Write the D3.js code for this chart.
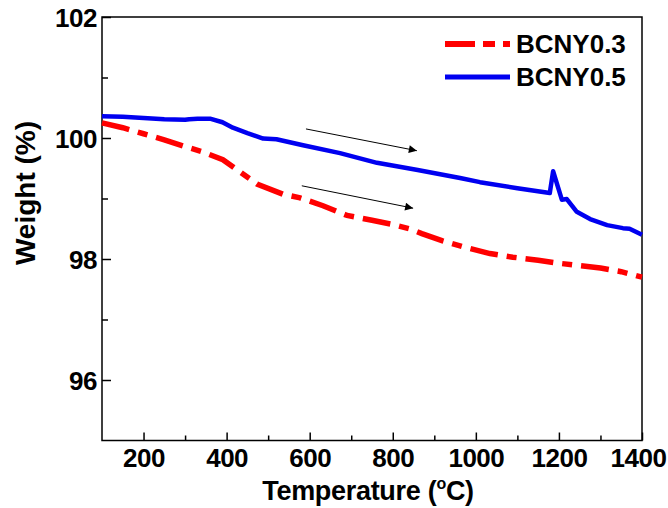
<!DOCTYPE html>
<html>
<head>
<meta charset="utf-8">
<script src="https://cdn.jsdelivr.net/npm/d3@7"></script>
<style>
  html, body { margin: 0; padding: 0; background: #fff; }
  svg { display: block; font-family: "Liberation Sans", Arial, sans-serif; font-weight: bold; }
</style>
</head>
<body>
<svg id="chart" width="668" height="508"></svg>
<script>
// ---- data ----
const tempBCNY05 = [100, 150, 200, 250, 300, 310, 330, 360, 390, 415, 450, 488, 520, 584, 673, 762, 860, 962, 1010, 1100, 1178, 1186, 1207, 1219, 1243, 1275, 1316, 1354, 1370, 1400];
const weightBCNY05 = [100.36, 100.35, 100.33, 100.31, 100.30, 100.31, 100.32, 100.32, 100.26, 100.17, 100.08, 99.99, 99.98, 99.88, 99.75, 99.59, 99.47, 99.34, 99.27, 99.17, 99.09, 99.45, 98.98, 98.99, 98.78, 98.66, 98.56, 98.51, 98.50, 98.40];

const tempBCNY03 = [100, 150, 200, 250, 295, 343, 391, 432, 473, 536, 577, 632, 690, 750, 800, 840, 870, 920, 970, 1034, 1089, 1150, 1200, 1250, 1300, 1350, 1400];
const weightBCNY03 = [100.25, 100.17, 100.07, 99.97, 99.87, 99.77, 99.64, 99.44, 99.24, 99.07, 99.01, 98.88, 98.72, 98.64, 98.57, 98.50, 98.42, 98.30, 98.20, 98.09, 98.03, 97.98, 97.93, 97.89, 97.85, 97.79, 97.70];

const seriesNames = ["BCNY0.3", "BCNY0.5"];
const xTickLabels = [200, 400, 600, 800, 1000, 1200, 1400];
const xMinorTicks = [300, 500, 700, 900, 1100, 1300];
const yTickLabels = [96, 98, 100, 102];
const yMinorTicks = [97, 99, 101];
// arrows: [startT, startW, endT, endW]
const arrowUpper = [591, 100.15, 858, 99.79];
const arrowLower = [581, 99.21, 849, 98.84];

// ---- layout ----
const svg = d3.select("#chart");
const pL = 102, pR = 642, pT = 17, pB = 440.5;
const x = d3.scaleLinear().domain([100, 1400]).range([pL, pR]);
const y = d3.scaleLinear().domain([95, 102]).range([pB, pT]);

const RED = "#ff0000", BLUE = "#0000f0";

// frame
svg.append("rect").attr("x", pL).attr("y", pT)
  .attr("width", pR - pL).attr("height", pB - pT)
  .attr("fill", "none").attr("stroke", "#000").attr("stroke-width", 1.5);

// x axis
const gx = svg.append("g").attr("transform", `translate(0,${pB})`)
  .call(d3.axisBottom(x).tickValues(xTickLabels).tickSize(-8).tickPadding(8).tickFormat(d3.format("d")));
gx.call(g => g.select(".domain").remove());
gx.selectAll("line").attr("stroke", "#000").attr("stroke-width", 1.5);
gx.selectAll("text").attr("font-size", 26).attr("font-family", "Liberation Sans, Arial, sans-serif")
  .attr("font-weight", "bold").attr("fill", "#000").attr("letter-spacing", -0.5)
  .attr("dx", d => d === 1400 ? -4 : 0);
const gxm = svg.append("g").attr("transform", `translate(0,${pB})`)
  .call(d3.axisBottom(x).tickValues(xMinorTicks).tickSize(-5).tickFormat(""));
gxm.call(g => g.select(".domain").remove());
gxm.selectAll("line").attr("stroke", "#000").attr("stroke-width", 1.5);

// y axis
const gy = svg.append("g").attr("transform", `translate(${pL},0)`)
  .call(d3.axisLeft(y).tickValues(yTickLabels).tickSize(-9).tickPadding(5).tickFormat(d3.format("d")));
gy.call(g => g.select(".domain").remove());
gy.selectAll("line").attr("stroke", "#000").attr("stroke-width", 1.5);
gy.selectAll("text").attr("font-size", 26).attr("font-family", "Liberation Sans, Arial, sans-serif")
  .attr("font-weight", "bold").attr("fill", "#000").attr("letter-spacing", -0.5).attr("dy", "0.36em");
const gym = svg.append("g").attr("transform", `translate(${pL},0)`)
  .call(d3.axisLeft(y).tickValues(yMinorTicks).tickSize(-6).tickFormat(""));
gym.call(g => g.select(".domain").remove());
gym.selectAll("line").attr("stroke", "#000").attr("stroke-width", 1.5);

// axis titles
const xt = svg.append("text").attr("x", 368).attr("y", 500)
  .attr("text-anchor", "middle").attr("font-size", 27).attr("letter-spacing", -0.3).attr("fill", "#000");
xt.append("tspan").text("Temperature (");
xt.append("tspan").attr("font-size", 16).attr("dy", -11).text("o");
xt.append("tspan").attr("dy", 11).text("C)");

svg.append("text").attr("transform", `translate(35,193) rotate(-90)`)
  .attr("text-anchor", "middle").attr("font-size", 28).attr("fill", "#000")
  .text("Weight (%)");

// lines
const line = d3.line().x(d => x(d[0])).y(d => y(d[1]));
const d05 = tempBCNY05.map((t, i) => [t, weightBCNY05[i]]);
const d03 = tempBCNY03.map((t, i) => [t, weightBCNY03[i]]);

svg.append("path").datum(d05).attr("d", line)
  .attr("fill", "none").attr("stroke", BLUE).attr("stroke-width", 4.5)
  .attr("stroke-linejoin", "round");
svg.append("path").datum(d03).attr("d", line)
  .attr("fill", "none").attr("stroke", RED).attr("stroke-width", 5.5)
  .attr("stroke-dasharray", "28,9,10,9");

// arrows
const defs = svg.append("defs");
defs.append("marker").attr("id", "arr").attr("viewBox", "0 0 10 10")
  .attr("refX", 10).attr("refY", 5).attr("markerWidth", 12).attr("markerHeight", 8)
  .attr("markerUnits", "userSpaceOnUse").attr("orient", "auto")
  .append("path").attr("d", "M0,0 L10,5 L0,10 Z").attr("fill", "#000");
[arrowUpper, arrowLower].forEach(a => {
  svg.append("line").attr("x1", x(a[0])).attr("y1", y(a[1]))
    .attr("x2", x(a[2])).attr("y2", y(a[3]))
    .attr("stroke", "#000").attr("stroke-width", 1).attr("marker-end", "url(#arr)");
});

// legend
const lgX1 = 445, lgX2 = 510;
const legend = [
  { name: seriesNames[0], color: RED, dash: "30,8,12,8", width: 6, ly: 44, ty: 53 },
  { name: seriesNames[1], color: BLUE, dash: null, width: 5, ly: 77, ty: 86 }
];
legend.forEach(l => {
  svg.append("line").attr("x1", lgX1).attr("x2", lgX2).attr("y1", l.ly).attr("y2", l.ly)
    .attr("stroke", l.color).attr("stroke-width", l.width)
    .attr("stroke-dasharray", l.dash);
  svg.append("text").attr("x", 516).attr("y", l.ty).attr("font-size", 26)
    .attr("fill", "#000").text(l.name);
});
</script>
</body>
</html>
